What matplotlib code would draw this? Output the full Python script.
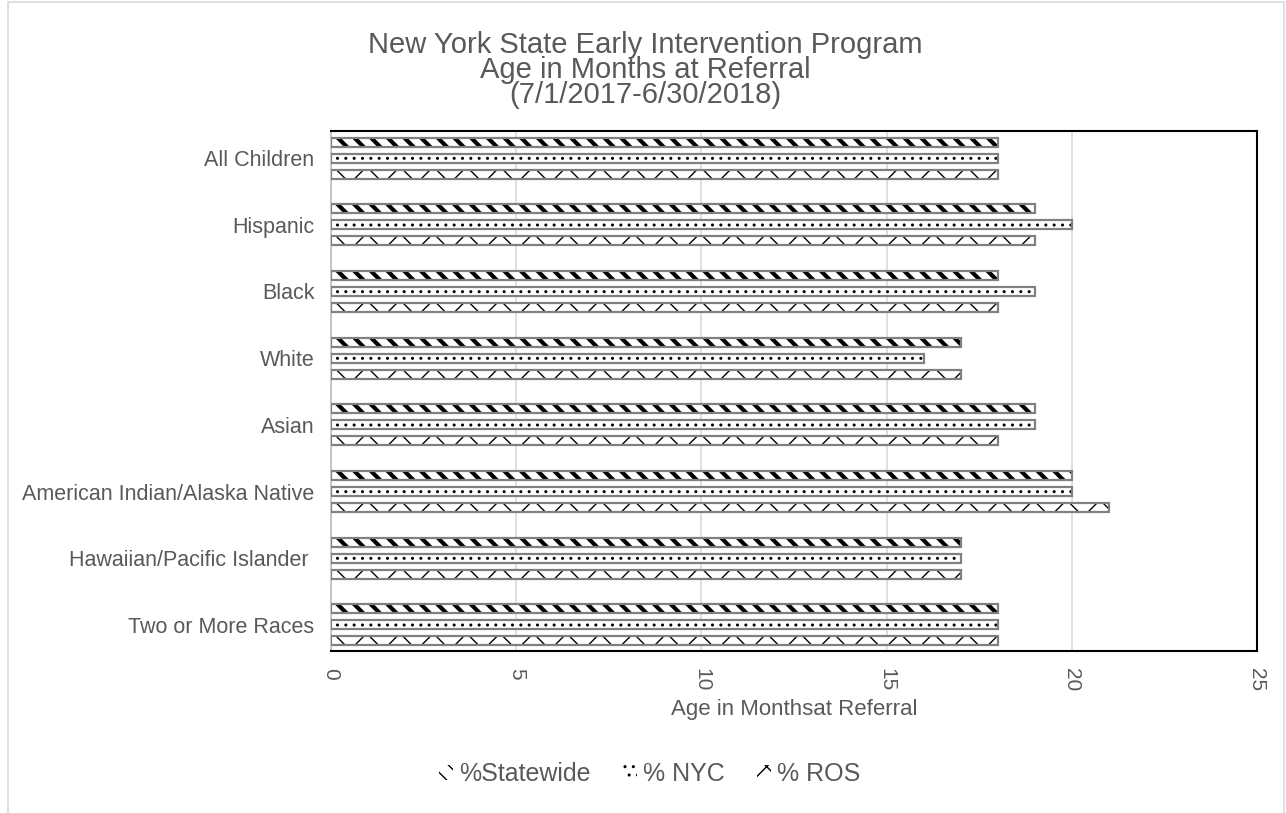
import matplotlib
matplotlib.use("Agg")
import matplotlib.pyplot as plt
import numpy as np
from matplotlib.patches import Rectangle, Patch

plt.rcParams['font.family'] = ['Liberation Sans', 'DejaVu Sans']
plt.rcParams['hatch.linewidth'] = 1.0

categories = ["All Children", "Hispanic", "Black", "White", "Asian",
              "American Indian/Alaska Native", "Hawaiian/Pacific Islander ",
              "Two or More Races"]
statewide = [18, 19, 18, 17, 19, 20, 17, 18]
nyc = [18, 20, 19, 16, 19, 20, 17, 18]
ros = [18, 19, 18, 17, 18, 21, 17, 18]
series_names = ["%Statewide", "% NYC", "% ROS"]
xticks = [0, 5, 10, 15, 20, 25]

GRAY = "#595959"

fig = plt.figure(figsize=(12.86, 8.13), dpi=100)
W, H = 1286, 813
ax = fig.add_axes([331 / W, 1 - 651 / H, (1257 - 331) / W, (651 - 131) / H])

# outer frame
fig.add_artist(Rectangle((8 / W, -0.01), (1284 - 8) / W, 1 - 2 / H + 0.01,
                         transform=fig.transFigure, fill=False,
                         edgecolor="#d9d9d9", linewidth=1.2))

y = np.arange(len(categories))
off = 0.24
h = 0.135
hatches = ["\\\\", "..", "x"]
hlw = [3.0, 1.0, 1.0]
for vals, dy, hatch, lw in zip([statewide, nyc, ros], [-off, 0, off], hatches, hlw):
    with plt.rc_context({'hatch.linewidth': lw}):
        ax.barh(y + dy, vals, height=h, color="white", edgecolor="black",
                hatch=hatch, linewidth=0, zorder=2)
    ax.barh(y + dy, vals, height=h, color="none", edgecolor="#808080",
            linewidth=1.6, zorder=3)

ax.set_ylim(7.39, -0.405)
ax.set_xlim(0, 25)
ax.set_yticks(y)
ax.set_yticklabels(categories, fontsize=15.5, color=GRAY)
ax.set_xticks(xticks)
ax.set_xticklabels([str(t) for t in xticks], rotation=-90, fontsize=15, color=GRAY)
ax.tick_params(axis='y', length=0, pad=12)
ax.tick_params(axis='x', length=0, pad=12)
ax.xaxis.grid(True, color="#d9d9d9", linewidth=1.2, zorder=0)
ax.set_axisbelow(True)
for s in ['top', 'right', 'bottom']:
    ax.spines[s].set_color("black")
    ax.spines[s].set_linewidth(1.5)
ax.spines['left'].set_color("#bfbfbf")
ax.spines['left'].set_linewidth(1.2)

ax.set_xlabel("Age in Monthsat Referral", fontsize=16, color=GRAY, labelpad=6)

fig.text(645 / W, 1 - 70 / H,
         "New York State Early Intervention Program\nAge in Months at Referral\n(7/1/2017-6/30/2018)",
         ha="center", va="center", fontsize=21, color=GRAY, linespacing=0.86)

handles = []
for hh, lw in zip(hatches, hlw):
    with plt.rc_context({'hatch.linewidth': lw}):
        handles.append(Patch(facecolor="white", edgecolor="black", hatch=hh, linewidth=0))
fig.legend(handles, series_names, loc="center", bbox_to_anchor=(650 / W, 1 - 774 / H),
           ncol=3, frameon=False, fontsize=18, labelcolor=GRAY,
           handlelength=0.55, handleheight=0.55, handletextpad=0.25, columnspacing=1.3)

fig.savefig("out.png", dpi=100)
